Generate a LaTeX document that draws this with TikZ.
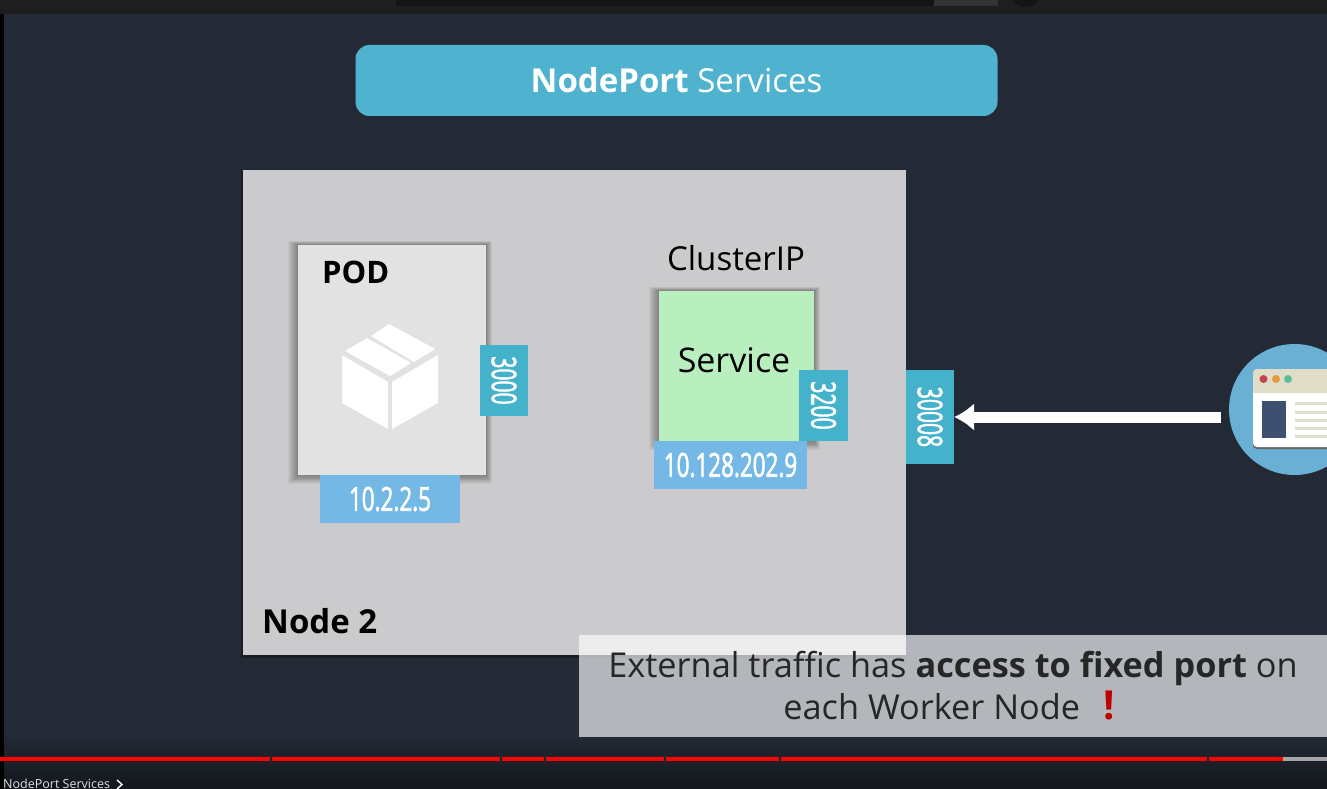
\documentclass[tikz,border=0pt]{standalone}
\usepackage{fontspec}
\usetikzlibrary{arrows.meta}
\setmainfont{Open Sans}
\newfontfamily\numfont[FakeBold=2.2]{Open Sans}
\definecolor{bgdark}{HTML}{232A36}
\definecolor{bgfoot}{HTML}{13161C}
\definecolor{barcol}{HTML}{1E1E1E}
\definecolor{teal}{HTML}{4FB3CF}
\definecolor{portcol}{HTML}{45B2CC}
\definecolor{ipcol}{HTML}{74B9E6}
\definecolor{nodecol}{HTML}{CBCBCD}
\definecolor{podcol}{HTML}{E2E2E2}
\definecolor{svccol}{HTML}{B9EEBF}
\definecolor{webcol}{HTML}{6AAFD4}
\definecolor{webbar}{HTML}{DFDCC8}
\definecolor{webline}{HTML}{DFE0CD}
\definecolor{webpane}{HTML}{3F4F70}
\definecolor{dotred}{HTML}{C8444F}
\definecolor{dotorange}{HTML}{E39A3F}
\definecolor{dotgreen}{HTML}{5CBF9A}
\tikzset{
  block/.style={inner sep=0pt,outer sep=0pt,text=black},
  portbox/.style={block,fill=portcol,text=white,font=\fontsize{34}{34}\numfont,rotate=-90},
  ipbox/.style={block,fill=ipcol,text=white,font=\fontsize{33}{33}\numfont},
  txtlabel/.style={inner sep=0pt,text=black,font=\fontsize{#1}{#1}\selectfont},
  txtbold/.style={inner sep=0pt,text=black,font=\fontsize{#1}{#1}\selectfont\bfseries},
}
\begin{document}
\begin{tikzpicture}[x=1pt,y=-1pt]
\useasboundingbox (0,0) rectangle (1327,789);
\clip (0,0) rectangle (1327,789);

\newcommand{\softshadow}[4]
{
\foreach \sh in {1,...,10}
{
\fill[black,opacity=0.04] (#1-\sh,#2-0.4*\sh) rectangle (#3+0.6*\sh,#4+0.9*\sh);
}
}

\fill[bgdark] (0,0) rectangle (1327,789);
\shade[top color=bgdark,bottom color=bgfoot,draw=none] (0,735) rectangle (1327,789);
\fill[barcol] (0,0) rectangle (1327,14);
\fill[black] (0,14) rectangle (3.5,789);
\fill[black!92!white] (396,0) rectangle (934,6);
\fill[black!80!white] (934,0) rectangle (998,6.5);
\fill[black!92!white] (1026,-8) circle (15);

\node[block,fill=teal,rounded corners=14pt,minimum width=642pt,minimum height=71pt,text=white,font=\fontsize{33}{33}\selectfont] (title) at (676.5,80.5) {\textbf{NodePort} Services};

\fill[black,opacity=0.3] (241,170) rectangle (906,658);
\node[block,fill=nodecol,minimum width=663pt,minimum height=485pt] (node2) at (574.5,412.5) {};
\node[txtbold=33,anchor=west] (node2name) at (262,621) {Node 2};

\softshadow{298}{245}{486}{475}
\node[block,fill=podcol,minimum width=188pt,minimum height=230pt] (pod) at (392,360) {};
\node[txtbold=31,anchor=west] (podname) at (322,272) {POD};

\fill[white] (342,355) -- (388,382) -- (388,429) -- (342,403) -- cycle;
\fill[white] (392,382) -- (438,355) -- (438,403) -- (392,429) -- cycle;
\fill[white] (345,351) -- (367,338) -- (411,363) -- (390,376) -- cycle;
\fill[white] (371,336) -- (389,324) -- (435,349) -- (414,362) -- cycle;

\node[portbox,minimum width=71pt,minimum height=48pt] (port3000) at (504,380.5) {\scalebox{0.62}[1]{3000}};
\node[ipbox,minimum width=140pt,minimum height=48pt] (podip) at (390,499) {\scalebox{0.68}[1]{10.2.2.5}};

\node[txtlabel=33] (clustername) at (736,258) {ClusterIP};
\softshadow{659}{291}{814}{441}
\node[block,fill=svccol,minimum width=155pt,minimum height=150pt] (service) at (736.5,366) {};
\node[txtlabel=34] (servicename) at (734,360) {Service};

\node[portbox,minimum width=71pt,minimum height=49pt] (port3200) at (823.5,405.5) {\scalebox{0.62}[1]{3200}};
\node[ipbox,minimum width=153pt,minimum height=48pt] (serviceip) at (730.5,465) {\scalebox{0.68}[1]{10.128.202.9}};

\node[portbox,minimum width=94pt,minimum height=48pt] (port30008) at (930,417) {\scalebox{0.62}[1]{30008}};

\node[circle,fill=webcol,minimum size=131pt,inner sep=0pt] (browser) at (1294.5,409.5) {};
\fill[black!60,rounded corners=4pt] (1253,370) rectangle (1345,449);
\fill[white,rounded corners=4pt] (1253,369) rectangle (1345,447);
\fill[webbar,rounded corners=4pt] (1253,369) rectangle (1345,393);
\fill[webbar] (1253,382) rectangle (1345,393);
\fill[webpane] (1262,401) rectangle (1286,438);
\foreach \px/\co in {1263.5/dotred,1276/dotorange,1288/dotgreen}
{
\fill[\co] (\px,379) circle (4);
}
\foreach \py in {403,412,420,428,436}
{
\fill[webline] (1295,\py-1.5) rectangle (1345,\py+1.5);
}

\coordinate (arrowstart) at (1221,417);
\draw[-{Latex[length=20pt,width=28pt]},line width=11pt,white] (arrowstart) -- (port30008);

\node[block,fill=white,fill opacity=0.66,text opacity=1,text=black!85,minimum width=748pt,minimum height=102pt,align=center,font=\fontsize{34.3}{42}\selectfont] (caption) at (953,686) {External traffic has \textbf{access to fixed port} on\\each Worker Node\hspace{23pt}\textcolor{red!75!black}{\fontsize{40}{42}\selectfont\textbf{!}}\hspace*{8pt}};

\def\by{759}
\foreach \ba/\be in {0/270,272/500,502/544,546/664,666/779,781/1207,1209/1283}
{
\fill[red] (\ba,\by-2) rectangle (\be,\by+2);
}
\fill[gray!70] (1283,\by-2) rectangle (1327,\by+2);

\node[inner sep=0pt,anchor=base west,text=white!88!black,font=\fontsize{12.5}{13}\selectfont] (foottext) at (3,788.5) {NodePort Services};
\coordinate (chevtop) at (117,780);
\draw[white,line width=1.4pt] (chevtop) -- ++(5,4.5) -- ++(-5,4.5);

\end{tikzpicture}
\end{document}
